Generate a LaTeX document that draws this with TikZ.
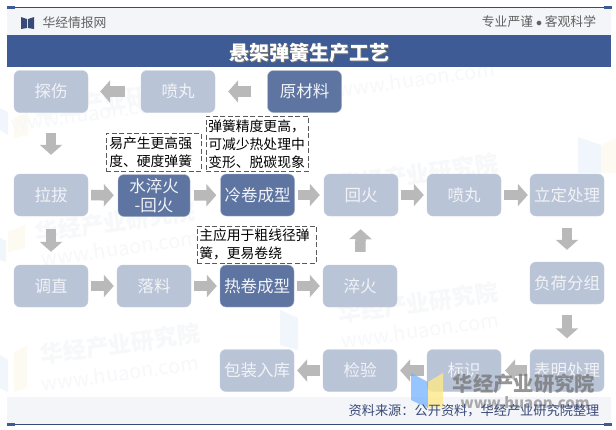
\documentclass[tikz,border=0pt]{standalone}
\usepackage{fontspec}
\setmainfont{Noto Sans CJK SC}
\usetikzlibrary{arrows.meta,positioning}
\definecolor{lightbox}{HTML}{BAC4D7}
\definecolor{darkbox}{HTML}{5E75A1}
\definecolor{titlebar}{HTML}{3F5B95}
\definecolor{bandbg}{HTML}{F3F5F9}
\definecolor{rulecol}{HTML}{3A4A78}
\definecolor{arrowcol}{HTML}{B9B9B9}
\definecolor{markcol}{HTML}{F7F8FA}
\definecolor{markblue}{HTML}{F1F6FC}
\definecolor{markyellow}{HTML}{FDFBF1}
\tikzset{
  x=1pt,y=-1pt,
  proc/.style={rounded corners=6pt,minimum width=74pt,minimum height=42pt,inner sep=0pt,align=center,font=\fontsize{16.5}{19}\selectfont},
  lightproc/.style={proc,fill=lightbox,draw=lightbox!85!white,text=white!80!lightbox},
  darkproc/.style={proc,fill=darkbox,draw=lightbox!80!darkbox,text=white!92!darkbox},
  note/.style={draw=black!65,dashed,dash pattern=on 5pt off 2.5pt,line width=.5pt,fill=white,inner sep=0pt,align=left,font=\fontsize{13.8}{18}\selectfont,text=black,anchor=north west},
  flow/.style={draw=arrowcol,line width=10.5pt,-{Triangle[length=10pt,width=22pt]}},
  wm/.style={rotate=8,text=markcol,font=\bfseries\fontsize{23}{26}\selectfont,inner sep=0pt},
  wmurl/.style={rotate=8,text=markcol,font=\fontsize{20}{24}\selectfont,inner sep=0pt},
}
\begin{document}
\begin{tikzpicture}
\useasboundingbox (0,0) rectangle (616,429);
\fill[white] (0,0) rectangle (616,429);
% faint watermark logos
\fill[markblue] (0,355) -- (8,360) -- (8,392) -- (0,388) -- cycle;
\fill[markyellow] (14,352) -- (27,345) -- (27,388) -- (14,392) -- cycle;
\fill[markblue] (0,238) -- (6,241) -- (6,262) -- (0,260) -- cycle;
\fill[markyellow] (8,232) -- (25,225) -- (25,248) -- (8,252) -- cycle;
\fill[markblue] (0,108) -- (8,112) -- (8,135) -- (0,130) -- cycle;
\fill[markyellow] (14,118) -- (28,112) -- (28,135) -- (14,138) -- cycle;
\fill[markblue] (280,310) -- (298,318) -- (298,350) -- (280,345) -- cycle;
\fill[markblue] (578,137) -- (601,145) -- (601,173) -- (578,173) -- cycle;
\fill[markyellow] (601,145) -- (616,138) -- (616,173) -- (601,173) -- cycle;
% watermarks
\node[wm] (wa) at (120,344) {华经产业研究院};
\node[wmurl] (wb) at (120,373) {www.huaon.com};
\node[wm] (wc) at (115,222) {华经产业研究院};
\node[wmurl] (wd) at (120,248) {www.huaon.com};
\node[wm] (we) at (418,303) {华经产业研究院};
\node[wmurl] (wf) at (420,330) {www.huaon.com};
\node[wm] (wg) at (418,174) {华经产业研究院};
\node[wm] (wh) at (115,100) {华经产业研究院};
\node[wmurl] (wi) at (90,113) {www.huaon.com};
\node[wmurl] (wj) at (416,79) {www.huaon.com};
% bands
\fill[bandbg] (7,7) rectangle (611,35);
\fill[bandbg] (7,397) rectangle (611,424);
\fill[titlebar] (7,35) rectangle (611,67);
\draw[rulecol,line width=.8pt] (7,7.5) -- (611,7.5);
\draw[rulecol,line width=.8pt] (7,424.5) -- (611,424.5);
\fill[titlebar] (7,6) rectangle (15,9);
\fill[titlebar] (604,6) rectangle (612,9);
\fill[titlebar] (7,423) rectangle (15,426);
\fill[titlebar] (604,423) rectangle (612,426);
\fill[rulecol] (21,17) -- (27,19) -- (27,28) -- (21,29) -- cycle;
\fill[rulecol] (34,17) -- (28,19) -- (28,28) -- (34,29) -- cycle;
\node[inner sep=0pt,text=black!62,font=\fontsize{12.8}{15}\selectfont] (brand) at (74.5,23) {华经情报网};
\node[inner sep=0pt,text=black!62,font=\fontsize{12.8}{15}\selectfont] (motto) at (539,22) {专业严谨 $\bullet$ 客观科学};
\node[inner sep=0pt,text=black!55,font=\bfseries\fontsize{20}{22}\selectfont] (titleshadow) at (310.3,53.8) {悬架弹簧生产工艺};
\node[inner sep=0pt,text=white,font=\bfseries\fontsize{20}{22}\selectfont] (title) at (309.5,53) {悬架弹簧生产工艺};
% process boxes
\node[lightproc] (tan) at (51,91.5) {探伤};
\node[lightproc] (pena) at (178,91.5) {喷丸};
\node[darkproc] (yuan) at (304.5,91.5) {原材料};
\node[lightproc] (la) at (51,195) {拉拔};
\node[darkproc,minimum width=72pt] (shui) at (154,195.5) {水淬火\\-回火};
\node[darkproc] (leng) at (257.5,195) {冷卷成型};
\node[lightproc] (hui) at (361,195) {回火};
\node[lightproc] (penb) at (464,195) {喷丸};
\node[lightproc] (li) at (567,195) {立定处理};
\node[lightproc] (tiao) at (51,286) {调直};
\node[lightproc] (luo) at (154,286) {落料};
\node[darkproc] (re) at (257,286) {热卷成型};
\node[lightproc] (cui) at (360,286) {淬火};
\node[lightproc] (fu) at (567,283) {负荷分组};
\node[lightproc] (bao) at (257,370.5) {包装入库};
\node[lightproc] (jian) at (360,370.5) {检验};
\node[lightproc] (biao) at (464,370.5) {标识};
\node[lightproc] (biaom) at (567,370.5) {表明处理};
% connectors
\draw[flow,shorten <=16pt,shorten >=12pt] (pena) -- (tan);
\draw[flow,shorten <=16pt,shorten >=13pt] (yuan) -- (pena);
\draw[flow,shorten <=20pt,shorten >=19pt] (tan) -- (la);
\draw[flow,shorten <=3pt,shorten >=4pt] (la) -- (shui);
\draw[flow,shorten <=4pt,shorten >=4pt] (shui) -- (leng);
\draw[flow,shorten <=3pt,shorten >=4pt] (leng) -- (hui);
\draw[flow,shorten <=3pt,shorten >=3pt] (hui) -- (penb);
\draw[flow,shorten <=3pt,shorten >=2pt] (penb) -- (li);
\draw[flow,shorten <=12pt,shorten >=12pt] (li) -- (fu);
\draw[flow,shorten <=11pt,shorten >=11pt] (fu) -- (biaom);
\draw[flow,shorten <=3pt,shorten >=4pt] (biaom) -- (biao);
\draw[flow,shorten <=3pt,shorten >=3pt] (biao) -- (jian);
\draw[flow,shorten <=3pt,shorten >=3pt] (jian) -- (bao);
\draw[flow,shorten <=13pt,shorten >=13pt] (la) -- (tiao);
\draw[flow,shorten <=3pt,shorten >=3pt] (tiao) -- (luo);
\draw[flow,shorten <=3pt,shorten >=3pt] (luo) -- (re);
\draw[flow,shorten <=3pt,shorten >=3pt] (re) -- (cui);
\draw[flow,shorten <=13pt,shorten >=13pt] (cui) -- (hui);
% notes
\node[note,minimum width=95pt,minimum height=38pt,text width=93pt] (na) at (106,133) {\hspace{2pt}易产生更高强\\\hspace{2pt}度、硬度弹簧};
\node[note,minimum width=102pt,minimum height=55pt,text width=100pt] (nb) at (206,116) {\hspace{1pt}弹簧精度更高，\\\hspace{1pt}可减少热处理中\\\hspace{1pt}变形、脱碳现象};
\node[note,minimum width=119pt,minimum height=37pt,text width=117pt] (nc) at (197,226) {\hspace{1pt}主应用于粗线径弹\\\hspace{1pt}簧，更易卷绕};
% overlay logo
\fill[blue!55!cyan!55!white,opacity=.75] (411,373) -- (428,382) -- (428,408) -- (411,400) -- cycle;
\fill[yellow!70!orange!45!white,opacity=.8] (428,382) -- (443,373) -- (443,407) -- (428,408) -- cycle;
\node[inner sep=0pt,text=black!55,opacity=.75,font=\bfseries\fontsize{20.3}{23}\selectfont] (lt) at (524,384) {华经产业研究院};
\node[inner sep=0pt,text=black!50,opacity=.65,font=\bfseries\fontsize{15}{18}\selectfont] (lu) at (525,403) {www.huaon.com};
\node[inner sep=0pt,text=rulecol,font=\fontsize{13.2}{16}\selectfont] (src) at (474,411) {资料来源：公开资料，华经产业研究院整理};
\end{tikzpicture}
\end{document}
